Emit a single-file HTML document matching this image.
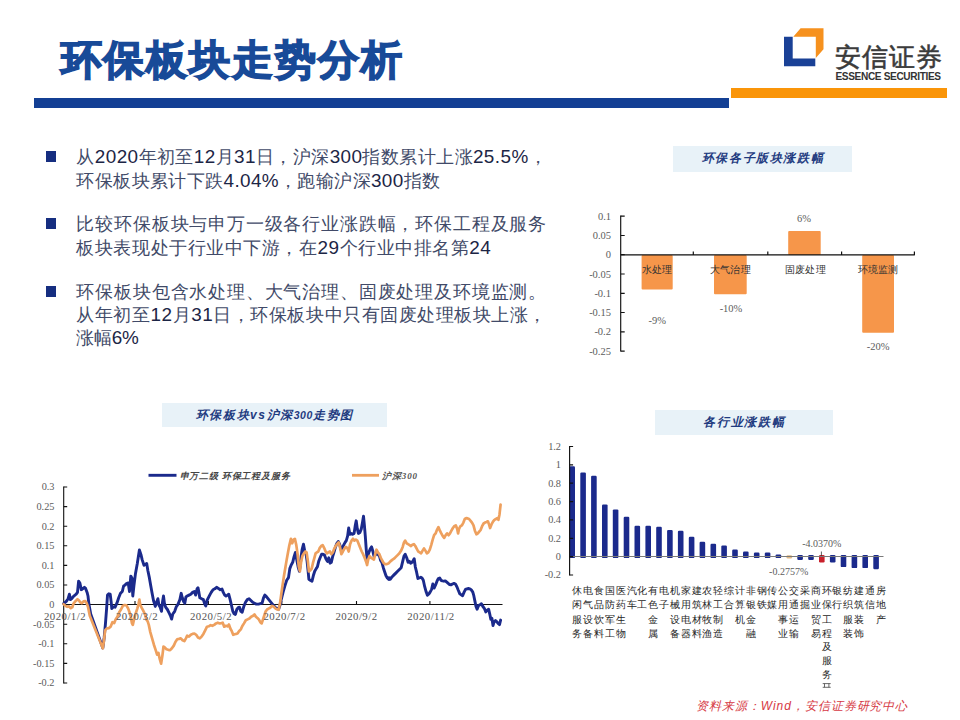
<!DOCTYPE html><html lang="zh"><head><meta charset="utf-8"><title>环保板块走势分析</title><style>
*{margin:0;padding:0;box-sizing:border-box}
html,body{width:960px;height:720px;background:#fff;overflow:hidden}
body{position:relative;font-family:"Liberation Sans", sans-serif;color:#222}
.abs{position:absolute;white-space:nowrap}
.title{left:60.5px;top:29.8px;font-size:40.8px;font-weight:700;color:#184a98;line-height:60px;letter-spacing:1.9px;-webkit-text-stroke:1.5px #184a98}
.bluebar{left:34.2px;top:98.2px;width:694.7px;height:9.5px;background:#133f94}
.orbar{left:731px;top:88.1px;width:216px;height:9.6px;background:#fa9509}
.logo-cn{left:835px;top:39px;font-size:26px;line-height:36px;color:#3b3b3b;letter-spacing:0.9px;font-weight:400;-webkit-text-stroke:0.55px #3b3b3b}
.logo-en{left:835.5px;top:69.5px;font-size:10.1px;line-height:14px;font-weight:700;color:#333;letter-spacing:-0.36px}
.bul{left:45.5px;width:10.8px;height:10.5px;background:#162e80}
.ln{left:76.4px;font-size:17.6px;line-height:24px;color:#414a68;height:24px}
.ln b{font-weight:400;font-size:18.9px;color:#1c2545}
.tbox{background:#e8f2f8;color:#1f3b80;font-weight:700;font-style:italic;text-align:center;font-size:12px}
.tbox i{font-size:10.5px;letter-spacing:0.6px}
.foot{left:696px;top:696.5px;font-size:12px;line-height:18px;color:#d63a45;font-style:italic;letter-spacing:0.95px}
svg{position:absolute;left:0;top:0}
svg text{font-family:"Liberation Serif", serif;fill:#5c5c5c}
</style></head><body>
<div class="abs title">环保板块走势分析</div>
<div class="abs bluebar"></div><div class="abs orbar"></div>
<svg width="960" height="720" viewBox="0 0 960 720">
<polygon points="784,36.7 792.7,36.7 792.7,58.5 815.3,58.5 815.3,66.3 784,66.3" fill="#1a4196"/>
<polygon points="793.3,36.7 800.6,28.3 823.5,28.3 823.5,49.2 815.8,57.9 815.8,36.7" fill="#f6911e"/>
</svg>
<div class="abs logo-cn">安信证券</div>
<div class="abs logo-en">ESSENCE SECURITIES</div>
<div class="abs bul" style="top:151.2px"></div>
<div class="abs bul" style="top:218.2px"></div>
<div class="abs bul" style="top:286.3px"></div>
<div class="abs ln" style="top:145px;letter-spacing:0.42px">从<b>2020</b>年初至<b>12</b>月<b>31</b>日，沪深<b>300</b>指数累计上涨<b>25.5%</b>，</div>
<div class="abs ln" style="top:169px;letter-spacing:0.387px">环保板块累计下跌<b>4.04%</b>，跑输沪深<b>300</b>指数</div>
<div class="abs ln" style="top:212px;letter-spacing:0.824px">比较环保板块与申万一级各行业涨跌幅，环保工程及服务</div>
<div class="abs ln" style="top:236px;letter-spacing:0.54px">板块表现处于行业中下游，在<b>29</b>个行业中排名第<b>24</b></div>
<div class="abs ln" style="top:279.5px;letter-spacing:0.824px">环保板块包含水处理、大气治理、固废处理及环境监测。</div>
<div class="abs ln" style="top:303px;letter-spacing:0.54px">从年初至<b>12</b>月<b>31</b>日，环保板块中只有固废处理板块上涨，</div>
<div class="abs ln" style="top:326px;letter-spacing:-0.328px">涨幅<b>6%</b></div>
<div class="abs tbox" style="left:672.5px;top:146px;width:179px;height:25.5px;line-height:25.5px;letter-spacing:1.6px;padding-left:2px">环保各子版块涨跌幅</div>
<div class="abs tbox" style="left:162px;top:403px;width:224.5px;height:24px;line-height:24px;letter-spacing:1.55px;padding-left:1px">环保板块vs沪深<i>300</i>走势图</div>
<div class="abs tbox" style="left:655px;top:409.5px;width:177.5px;height:25px;line-height:25px;letter-spacing:1.7px;padding-left:1px">各行业涨跌幅</div>
<svg width="960" height="720" viewBox="0 0 960 720">
<rect x="641.6" y="254.9" width="31.1" height="34.7" fill="#f6964a" rx="1"/>
<rect x="714" y="254.9" width="32.7" height="39.3" fill="#f6964a" rx="1"/>
<rect x="788.2" y="231.0" width="32.5" height="23.9" fill="#f6964a" rx="1"/>
<rect x="862.2" y="254.9" width="31.8" height="77.9" fill="#f6964a" rx="1"/>
<path d="M620.7,215.5 V351.5 M620.7,254.9 H914.8" stroke="#111" stroke-width="1.15" fill="none"/>
<path d="M620.7,216.2 h4 M620.7,235.5 h4 M620.7,254.7 h4 M620.7,274.0 h4 M620.7,293.3 h4 M620.7,312.5 h4 M620.7,331.8 h4 M620.7,351.1 h4 M693.3,254.9 v-3.5 M767.8,254.9 v-3.5 M841.6,254.9 v-3.5 M914.4,254.9 v-3.5" stroke="#111" stroke-width="1.2" fill="none"/>
<text x="611" y="219.7" font-size="10.5" text-anchor="end">0.1</text>
<text x="611" y="239.0" font-size="10.5" text-anchor="end">0.05</text>
<text x="611" y="258.2" font-size="10.5" text-anchor="end">0</text>
<text x="611" y="277.5" font-size="10.5" text-anchor="end">-0.05</text>
<text x="611" y="296.8" font-size="10.5" text-anchor="end">-0.1</text>
<text x="611" y="316.0" font-size="10.5" text-anchor="end">-0.15</text>
<text x="611" y="335.3" font-size="10.5" text-anchor="end">-0.2</text>
<text x="611" y="354.6" font-size="10.5" text-anchor="end">-0.25</text>
<text x="657" y="272.8" font-size="10.4" text-anchor="middle" style="fill:#333;letter-spacing:0.1px">水处理</text>
<text x="730.5" y="272.8" font-size="10.4" text-anchor="middle" style="fill:#333;letter-spacing:0.1px">大气治理</text>
<text x="805.5" y="272.8" font-size="10.4" text-anchor="middle" style="fill:#333;letter-spacing:0.1px">固废处理</text>
<text x="878" y="272.8" font-size="10.4" text-anchor="middle" style="fill:#333;letter-spacing:0.1px">环境监测</text>
<text x="657.3" y="323.5" font-size="10.5" text-anchor="middle">-9%</text>
<text x="731" y="311.7" font-size="10.5" text-anchor="middle">-10%</text>
<text x="804" y="222.4" font-size="10.5" text-anchor="middle">6%</text>
<text x="878.2" y="349.7" font-size="10.5" text-anchor="middle">-20%</text>
<path d="M63.7,486.5 V683.5 M63.7,604.5 H502.5" stroke="#111" stroke-width="1.1" fill="none"/>
<path d="M63.7,487.0 h3.5 M63.7,506.6 h3.5 M63.7,526.2 h3.5 M63.7,545.8 h3.5 M63.7,565.4 h3.5 M63.7,585.0 h3.5 M63.7,604.6 h3.5 M63.7,624.2 h3.5 M63.7,643.8 h3.5 M63.7,663.4 h3.5 M63.7,683.0 h3.5 M135.0,604.5 v-3.5 M208.4,604.5 v-3.5 M281.8,604.5 v-3.5 M356.5,604.5 v-3.5 M429.9,604.5 v-3.5" stroke="#111" stroke-width="1.1" fill="none"/>
<text x="54.5" y="490.4" font-size="10.3" text-anchor="end">0.3</text>
<text x="54.5" y="510.0" font-size="10.3" text-anchor="end">0.25</text>
<text x="54.5" y="529.6" font-size="10.3" text-anchor="end">0.2</text>
<text x="54.5" y="549.2" font-size="10.3" text-anchor="end">0.15</text>
<text x="54.5" y="568.8" font-size="10.3" text-anchor="end">0.1</text>
<text x="54.5" y="588.4" font-size="10.3" text-anchor="end">0.05</text>
<text x="54.5" y="608.0" font-size="10.3" text-anchor="end">0</text>
<text x="54.5" y="627.6" font-size="10.3" text-anchor="end">-0.05</text>
<text x="54.5" y="647.2" font-size="10.3" text-anchor="end">-0.1</text>
<text x="54.5" y="666.8" font-size="10.3" text-anchor="end">-0.15</text>
<text x="54.5" y="686.4" font-size="10.3" text-anchor="end">-0.2</text>
<path d="M63.6,603.6 L66.3,601.4 L68.1,598.7 L69.4,594.2 L70.5,599.6 L71.7,598.7 L73.5,596.3 L76.2,594.2 L77.5,592.4 L78.6,581.2 L79.9,583.0 L81.3,589.7 L82.6,588.8 L84.4,587.3 L85.6,588.4 L87.1,592.4 L88.0,596.0 L88.9,604.1 L90.7,614.0 L102.8,648.0 L104.2,637.5 L105.5,623.1 L106.6,608.6 L107.5,595.1 L108.8,593.8 L110.2,594.2 L111.1,601.4 L111.8,608.6 L113.3,606.8 L115.1,607.2 L116.9,603.2 L118.7,597.8 L120.5,593.3 L122.3,591.5 L123.6,586.0 L125.0,585.1 L126.8,583.3 L128.2,583.0 L129.5,591.5 L130.8,576.1 L131.9,577.9 L132.8,596.0 L134.0,585.1 L135.5,573.4 L137.3,563.5 L139.4,549.9 L140.9,554.4 L142.2,559.9 L144.0,565.3 L145.4,564.4 L146.7,563.5 L147.9,570.7 L149.4,577.9 L150.8,586.0 L152.1,593.3 L153.5,600.5 L155.3,606.4 L156.6,602.3 L157.9,598.7 L158.9,605.0 L160.2,607.2 L161.5,611.3 L162.6,601.4 L163.5,596.0 L164.4,603.2 L165.6,607.2 L167.4,609.5 L169.2,613.1 L170.5,615.8 L171.6,619.1 L172.8,614.0 L174.7,611.3 L176.3,606.8 L178.1,604.1 L179.9,599.6 L181.2,593.3 L182.3,597.8 L183.5,601.4 L184.8,603.2 L185.9,596.9 L187.2,596.0 L189.0,595.1 L190.8,594.2 L192.6,592.4 L194.4,591.5 L195.6,595.1 L197.1,588.8 L198.0,587.8 L198.9,592.4 L199.8,597.8 L201.6,598.7 L203.4,599.6 L204.7,604.1 L205.8,605.9 L207.0,600.5 L208.3,597.8 L209.7,595.1 L211.2,592.4 L213.0,589.7 L214.8,588.8 L216.6,587.3 L218.4,588.4 L220.2,589.7 L222.0,589.1 L223.3,592.4 L224.7,595.1 L226.0,596.0 L227.4,595.1 L228.7,594.2 L229.9,598.7 L231.4,605.0 L232.8,611.3 L234.1,613.7 L235.4,614.4 L236.8,609.5 L238.2,607.7 L239.5,607.2 L240.8,611.3 L242.2,612.2 L243.7,606.8 L245.5,602.3 L247.3,599.6 L249.1,598.7 L250.9,600.5 L252.7,602.3 L254.5,603.2 L256.3,604.1 L258.5,604.1 L260.3,603.6 L262.1,603.2 L263.5,597.8 L264.8,595.1 L266.6,596.9 L268.4,599.2 L270.2,601.4 L272.0,603.6 L273.8,605.9 L275.6,607.7 L277.4,608.6 L278.6,609.2 L280.1,604.7 L281.3,599.3 L283.1,592.1 L284.9,585.8 L286.7,580.3 L288.5,577.6 L289.8,568.6 L291.2,565.0 L292.7,562.3 L294.0,556.9 L295.4,552.4 L296.7,559.6 L298.1,566.8 L299.4,571.3 L300.3,565.0 L301.2,556.0 L302.1,549.7 L303.5,544.2 L304.8,551.5 L306.1,554.2 L307.1,561.4 L308.2,572.2 L308.9,579.4 L310.2,580.3 L312.0,581.2 L313.3,575.8 L314.7,571.3 L316.2,568.6 L317.4,566.8 L318.7,561.4 L320.1,557.8 L321.6,554.2 L323.0,554.2 L324.5,555.1 L325.9,558.7 L327.4,561.4 L328.8,557.8 L330.1,563.2 L331.3,562.3 L332.8,556.0 L334.2,551.5 L335.5,546.9 L336.9,543.3 L338.2,541.5 L339.6,544.2 L340.9,549.7 L342.2,547.8 L343.6,545.1 L345.1,542.4 L346.3,540.6 L347.6,536.1 L348.7,528.0 L349.9,534.3 L351.2,533.4 L352.6,534.3 L354.1,533.4 L355.3,525.3 L356.2,520.8 L357.3,528.9 L358.4,533.4 L359.9,532.5 L361.3,528.9 L362.6,521.7 L363.5,516.2 L364.4,525.3 L365.3,536.1 L366.2,548.8 L367.1,559.6 L368.0,556.0 L368.9,552.4 L370.3,548.8 L371.6,546.9 L372.9,551.5 L373.9,556.0 L375.2,555.1 L376.5,553.3 L377.9,554.2 L379.4,556.0 L380.6,560.5 L381.9,562.3 L383.3,567.7 L384.8,572.2 L386.0,575.8 L387.3,578.0 L388.8,579.4 L389.0,577.6 L390.4,579.1 L392.2,576.7 L394.0,574.9 L395.8,573.1 L397.6,571.3 L399.4,569.5 L401.2,567.7 L402.7,561.4 L404.0,556.0 L405.2,554.2 L406.7,557.8 L408.1,562.3 L409.4,561.4 L410.6,563.2 L412.1,562.3 L413.2,560.5 L414.2,558.7 L415.3,566.8 L416.6,572.2 L417.9,578.5 L419.3,578.0 L420.8,577.3 L422.0,578.0 L423.3,580.3 L424.7,586.7 L426.2,592.1 L427.4,595.3 L428.9,593.9 L430.1,592.1 L431.6,589.4 L432.8,584.0 L434.1,588.1 L435.6,584.9 L437.0,581.2 L438.4,578.5 L439.7,578.0 L441.0,580.3 L442.4,580.9 L443.9,581.2 L445.3,580.9 L446.8,582.2 L448.2,583.4 L449.6,584.5 L451.1,584.9 L452.5,584.0 L454.0,583.4 L455.4,584.0 L456.9,586.7 L458.3,590.3 L459.8,593.9 L461.2,594.8 L462.6,595.7 L464.1,592.1 L465.5,589.4 L467.0,588.8 L468.4,588.5 L469.9,588.8 L471.3,589.9 L472.8,592.1 L473.8,595.7 L474.9,601.1 L476.0,606.5 L477.1,609.2 L478.5,605.6 L480.0,604.7 L481.4,603.8 L482.9,606.5 L484.3,608.3 L485.8,611.9 L487.2,610.1 L488.6,609.2 L489.7,613.8 L490.8,619.2 L491.9,618.3 L493.0,625.5 L494.1,621.9 L495.5,620.6 L496.9,621.9 L498.4,623.7 L499.5,624.6 L500.6,620.1" stroke="#1b2a8c" stroke-width="2.9" fill="none" stroke-linejoin="round" stroke-linecap="round"/>
<path d="M63.6,604.1 L65.4,605.9 L67.2,606.8 L69.0,606.4 L70.8,608.2 L72.3,607.2 L73.5,603.6 L75.3,601.4 L77.5,599.2 L79.0,600.5 L80.2,602.3 L81.7,603.2 L83.5,601.4 L85.3,601.0 L86.7,603.2 L88.0,606.8 L89.8,615.8 L102.8,648.3 L103.9,641.1 L105.1,630.3 L106.6,628.5 L108.8,628.1 L110.6,626.7 L112.4,622.2 L114.2,623.1 L115.6,619.4 L117.4,616.7 L119.2,612.2 L121.0,609.5 L122.8,605.9 L124.6,605.0 L126.4,605.4 L128.2,608.6 L129.5,612.2 L130.8,616.7 L131.9,623.1 L132.8,624.9 L134.0,619.4 L135.5,614.0 L137.3,608.6 L138.5,604.1 L139.4,599.6 L140.3,605.0 L141.6,607.7 L143.1,610.4 L144.9,614.0 L146.3,619.4 L147.6,621.2 L148.8,624.9 L150.3,632.1 L152.1,638.4 L153.9,644.7 L155.7,650.1 L157.1,654.7 L158.4,652.8 L159.8,659.2 L161.1,663.7 L162.4,655.6 L163.5,646.5 L164.7,647.4 L166.5,649.2 L168.3,649.8 L170.1,650.1 L171.9,648.3 L173.8,645.6 L175.4,642.0 L177.2,639.3 L179.0,638.9 L180.8,638.4 L182.6,640.2 L184.4,641.1 L185.9,638.4 L187.2,635.7 L189.0,636.6 L190.8,634.8 L192.6,633.9 L194.4,633.5 L196.2,634.8 L198.0,637.5 L199.8,638.4 L201.6,636.6 L203.4,633.9 L205.2,630.3 L207.0,626.7 L208.8,626.3 L210.6,625.2 L212.4,625.8 L214.2,624.9 L216.0,623.4 L217.8,622.7 L219.7,623.4 L221.5,623.1 L222.7,622.7 L224.2,626.7 L226.0,625.8 L227.4,626.3 L228.9,624.5 L230.3,628.5 L231.8,631.2 L233.2,634.8 L234.6,634.2 L236.1,633.9 L237.5,633.5 L239.0,631.2 L240.8,629.4 L242.2,626.3 L244.0,623.4 L245.8,620.3 L247.6,619.4 L249.4,618.5 L251.2,616.7 L253.1,615.8 L254.5,614.4 L255.9,616.7 L257.4,618.0 L258.8,619.4 L260.3,622.2 L261.7,623.4 L263.0,619.4 L264.2,615.8 L265.7,611.3 L267.1,609.5 L268.6,608.6 L270.2,607.7 L272.0,605.9 L273.8,606.8 L275.6,608.6 L277.4,609.5 L278.6,609.8 L280.1,602.9 L281.3,593.9 L282.6,584.9 L284.0,575.8 L285.5,566.8 L286.7,559.6 L288.0,552.4 L289.4,545.1 L290.9,538.8 L292.2,543.3 L293.6,539.7 L294.9,538.8 L296.3,545.1 L297.6,554.2 L298.8,566.8 L299.9,571.3 L301.2,561.4 L302.4,556.0 L303.9,553.3 L305.3,551.5 L306.6,552.4 L307.9,561.4 L308.9,571.3 L310.2,570.4 L311.7,568.6 L312.9,563.2 L314.4,557.8 L315.6,553.3 L316.9,552.4 L318.3,551.5 L319.8,547.8 L321.2,546.0 L322.7,545.1 L324.1,547.8 L325.6,551.5 L327.0,553.3 L328.4,552.4 L329.9,551.5 L331.3,554.2 L332.8,552.4 L334.2,548.8 L335.7,546.0 L337.1,544.2 L338.6,542.4 L340.0,546.9 L341.4,554.2 L342.9,551.5 L344.3,548.8 L345.8,546.9 L347.2,547.8 L348.7,551.5 L350.1,544.2 L351.6,540.6 L353.0,538.8 L354.4,540.6 L355.9,539.7 L357.3,540.6 L358.8,544.2 L360.2,547.8 L361.7,551.5 L363.1,554.2 L364.6,557.8 L366.0,561.4 L367.1,565.0 L368.2,559.6 L369.6,556.0 L371.1,557.8 L372.5,558.7 L373.9,559.6 L375.2,554.2 L376.5,549.7 L377.9,552.4 L379.4,554.2 L380.8,557.8 L382.2,560.5 L383.7,563.2 L385.1,564.1 L386.9,564.1 L388.8,563.2 L390.4,561.4 L392.2,559.9 L394.0,558.7 L395.8,556.9 L397.6,555.1 L399.4,553.3 L401.2,550.6 L402.7,546.9 L404.0,542.4 L405.2,540.6 L406.7,543.3 L408.1,544.2 L409.6,545.1 L411.0,546.0 L412.4,544.8 L413.9,544.2 L415.3,546.0 L416.8,548.8 L418.2,551.5 L419.7,552.4 L421.1,553.3 L422.6,550.6 L424.0,548.4 L425.4,550.6 L426.9,553.3 L428.3,552.4 L429.8,549.7 L431.2,545.1 L432.7,539.7 L434.1,535.2 L435.6,533.4 L437.0,529.8 L438.4,527.1 L439.9,530.7 L441.3,533.4 L442.8,536.1 L444.2,537.9 L445.7,535.2 L447.1,533.4 L448.6,535.2 L450.0,533.4 L451.4,530.7 L452.9,528.0 L454.3,526.2 L455.8,525.3 L457.2,528.9 L458.1,533.4 L459.0,528.9 L460.5,526.2 L461.9,525.3 L463.4,522.6 L464.8,519.0 L466.2,518.1 L467.7,518.4 L469.1,519.0 L470.6,520.8 L472.0,522.6 L473.5,525.3 L474.9,530.7 L476.4,534.3 L477.8,533.4 L479.2,531.6 L480.7,529.8 L482.1,526.2 L483.6,523.5 L485.0,522.6 L486.5,522.0 L487.9,521.3 L489.0,524.4 L490.1,528.0 L491.5,524.4 L493.0,521.7 L494.4,519.9 L495.9,519.0 L497.3,518.1 L498.4,519.9 L499.5,514.4 L500.6,504.5" stroke="#eea05e" stroke-width="2.7" fill="none" stroke-linejoin="round" stroke-linecap="round"/>
<text x="65" y="619.8" font-size="10.8" text-anchor="middle" style="letter-spacing:0.45px;fill:#555">2020/1/2</text>
<text x="137" y="619.8" font-size="10.8" text-anchor="middle" style="letter-spacing:0.45px;fill:#555">2020/3/2</text>
<text x="211" y="619.8" font-size="10.8" text-anchor="middle" style="letter-spacing:0.45px;fill:#555">2020/5/2</text>
<text x="284.5" y="619.8" font-size="10.8" text-anchor="middle" style="letter-spacing:0.45px;fill:#555">2020/7/2</text>
<text x="356.5" y="619.8" font-size="10.8" text-anchor="middle" style="letter-spacing:0.45px;fill:#555">2020/9/2</text>
<text x="431" y="619.8" font-size="10.8" text-anchor="middle" style="letter-spacing:0.45px;fill:#555">2020/11/2</text>
<path d="M148.5,475.3 H176.5" stroke="#1b2a8c" stroke-width="2.9" stroke-linecap="butt"/>
<path d="M352,475.3 H379" stroke="#eea05e" stroke-width="2.8" stroke-linecap="butt"/>
<text x="179.5" y="478.6" font-size="9" style="font-style:italic;font-weight:700;fill:#444;letter-spacing:0.82px">申万二级 环保工程及服务</text>
<text x="382" y="478.6" font-size="9" style="font-style:italic;font-weight:700;fill:#555;letter-spacing:0.9px">沪深300</text>
<rect x="569.4" y="466.3" width="5.6" height="91.8" fill="#1b2a8c" rx="1.2"/>
<rect x="580.3" y="472.5" width="5.6" height="85.6" fill="#1b2a8c" rx="1.2"/>
<rect x="591.1" y="475.7" width="5.6" height="82.4" fill="#1b2a8c" rx="1.2"/>
<rect x="602.0" y="504.4" width="5.6" height="53.7" fill="#1b2a8c" rx="1.2"/>
<rect x="612.8" y="509.4" width="5.6" height="48.7" fill="#1b2a8c" rx="1.2"/>
<rect x="623.7" y="516.7" width="5.6" height="41.4" fill="#1b2a8c" rx="1.2"/>
<rect x="634.5" y="525.7" width="5.6" height="32.4" fill="#1b2a8c" rx="1.2"/>
<rect x="645.4" y="525.7" width="5.6" height="32.4" fill="#1b2a8c" rx="1.2"/>
<rect x="656.2" y="526.7" width="5.6" height="31.4" fill="#1b2a8c" rx="1.2"/>
<rect x="667.1" y="529.9" width="5.6" height="28.2" fill="#1b2a8c" rx="1.2"/>
<rect x="677.9" y="530.8" width="5.6" height="27.3" fill="#1b2a8c" rx="1.2"/>
<rect x="688.8" y="536.7" width="5.6" height="21.4" fill="#1b2a8c" rx="1.2"/>
<rect x="699.6" y="541.8" width="5.6" height="16.3" fill="#1b2a8c" rx="1.2"/>
<rect x="710.5" y="543.7" width="5.6" height="14.4" fill="#1b2a8c" rx="1.2"/>
<rect x="721.3" y="545.5" width="5.6" height="12.6" fill="#1b2a8c" rx="1.2"/>
<rect x="732.2" y="549.6" width="5.6" height="8.5" fill="#1b2a8c" rx="1.2"/>
<rect x="743.0" y="551.6" width="5.6" height="6.5" fill="#1b2a8c" rx="1.2"/>
<rect x="753.9" y="552.6" width="5.6" height="5.5" fill="#1b2a8c" rx="1.2"/>
<rect x="764.8" y="552.6" width="5.6" height="5.5" fill="#1b2a8c" rx="1.2"/>
<rect x="775.6" y="554.4" width="5.6" height="3.7" fill="#1b2a8c" rx="1.2"/>
<rect x="786.5" y="555.3" width="5.6" height="3.2" fill="#e2ba86" rx="1.2"/>
<rect x="797.3" y="554.9" width="5.6" height="5.0" fill="#1b2a8c" rx="1.2"/>
<rect x="808.2" y="554.9" width="5.6" height="5.0" fill="#1b2a8c" rx="1.2"/>
<rect x="819.0" y="554.9" width="5.6" height="7.6" fill="#c9202b" rx="1.2"/>
<rect x="829.9" y="554.9" width="5.6" height="7.6" fill="#1b2a8c" rx="1.2"/>
<rect x="840.7" y="554.9" width="5.6" height="12.2" fill="#1b2a8c" rx="1.2"/>
<rect x="851.6" y="554.9" width="5.6" height="13.2" fill="#1b2a8c" rx="1.2"/>
<rect x="862.4" y="554.9" width="5.6" height="13.2" fill="#1b2a8c" rx="1.2"/>
<rect x="873.3" y="554.9" width="5.6" height="14.3" fill="#1b2a8c" rx="1.2"/>
<path d="M569.6,556.5 H883.5" stroke="#7a7a7a" stroke-width="1" fill="none"/>
<path d="M569.6,446 V575.5" stroke="#111" stroke-width="1.15" fill="none"/>
<path d="M569.6,446.5 h3.5 M569.6,464.9 h3.5 M569.6,483.2 h3.5 M569.6,501.6 h3.5 M569.6,519.9 h3.5 M569.6,538.3 h3.5 M569.6,556.7 h3.5 M569.6,575.0 h3.5" stroke="#111" stroke-width="1.2" fill="none"/>
<path d="M821.4,551.5 V556" stroke="#333" stroke-width="0.8"/>
<text x="561" y="449.9" font-size="10.3" text-anchor="end">1.2</text>
<text x="561" y="468.3" font-size="10.3" text-anchor="end">1</text>
<text x="561" y="486.6" font-size="10.3" text-anchor="end">0.8</text>
<text x="561" y="505.0" font-size="10.3" text-anchor="end">0.6</text>
<text x="561" y="523.3" font-size="10.3" text-anchor="end">0.4</text>
<text x="561" y="541.7" font-size="10.3" text-anchor="end">0.2</text>
<text x="561" y="560.1" font-size="10.3" text-anchor="end">0</text>
<text x="561" y="578.4" font-size="10.3" text-anchor="end">-0.2</text>
<text x="821.8" y="546.8" font-size="10" text-anchor="middle">-4.0370%</text>
<text x="788.7" y="575" font-size="10" text-anchor="middle">-0.2757%</text>
<text x="577.3" y="594.0" font-size="10.4" text-anchor="middle" style="fill:#262626">休</text>
<text x="577.3" y="608.2" font-size="10.4" text-anchor="middle" style="fill:#262626">闲</text>
<text x="577.3" y="622.6" font-size="10.4" text-anchor="middle" style="fill:#262626">服</text>
<text x="577.3" y="636.7" font-size="10.4" text-anchor="middle" style="fill:#262626">务</text>
<text x="588.1" y="594.0" font-size="10.4" text-anchor="middle" style="fill:#262626">电</text>
<text x="588.1" y="608.2" font-size="10.4" text-anchor="middle" style="fill:#262626">气</text>
<text x="588.1" y="622.6" font-size="10.4" text-anchor="middle" style="fill:#262626">设</text>
<text x="588.1" y="636.7" font-size="10.4" text-anchor="middle" style="fill:#262626">备</text>
<text x="599.0" y="594.0" font-size="10.4" text-anchor="middle" style="fill:#262626">食</text>
<text x="599.0" y="608.2" font-size="10.4" text-anchor="middle" style="fill:#262626">品</text>
<text x="599.0" y="622.6" font-size="10.4" text-anchor="middle" style="fill:#262626">饮</text>
<text x="599.0" y="636.7" font-size="10.4" text-anchor="middle" style="fill:#262626">料</text>
<text x="609.8" y="594.0" font-size="10.4" text-anchor="middle" style="fill:#262626">国</text>
<text x="609.8" y="608.2" font-size="10.4" text-anchor="middle" style="fill:#262626">防</text>
<text x="609.8" y="622.6" font-size="10.4" text-anchor="middle" style="fill:#262626">军</text>
<text x="609.8" y="636.7" font-size="10.4" text-anchor="middle" style="fill:#262626">工</text>
<text x="620.6" y="594.0" font-size="10.4" text-anchor="middle" style="fill:#262626">医</text>
<text x="620.6" y="608.2" font-size="10.4" text-anchor="middle" style="fill:#262626">药</text>
<text x="620.6" y="622.6" font-size="10.4" text-anchor="middle" style="fill:#262626">生</text>
<text x="620.6" y="636.7" font-size="10.4" text-anchor="middle" style="fill:#262626">物</text>
<text x="631.5" y="594.0" font-size="10.4" text-anchor="middle" style="fill:#262626">汽</text>
<text x="631.5" y="608.2" font-size="10.4" text-anchor="middle" style="fill:#262626">车</text>
<text x="642.3" y="594.0" font-size="10.4" text-anchor="middle" style="fill:#262626">化</text>
<text x="642.3" y="608.2" font-size="10.4" text-anchor="middle" style="fill:#262626">工</text>
<text x="653.2" y="594.0" font-size="10.4" text-anchor="middle" style="fill:#262626">有</text>
<text x="653.2" y="608.2" font-size="10.4" text-anchor="middle" style="fill:#262626">色</text>
<text x="653.2" y="622.6" font-size="10.4" text-anchor="middle" style="fill:#262626">金</text>
<text x="653.2" y="636.7" font-size="10.4" text-anchor="middle" style="fill:#262626">属</text>
<text x="664.0" y="594.0" font-size="10.4" text-anchor="middle" style="fill:#262626">电</text>
<text x="664.0" y="608.2" font-size="10.4" text-anchor="middle" style="fill:#262626">子</text>
<text x="674.8" y="594.0" font-size="10.4" text-anchor="middle" style="fill:#262626">机</text>
<text x="674.8" y="608.2" font-size="10.4" text-anchor="middle" style="fill:#262626">械</text>
<text x="674.8" y="622.6" font-size="10.4" text-anchor="middle" style="fill:#262626">设</text>
<text x="674.8" y="636.7" font-size="10.4" text-anchor="middle" style="fill:#262626">备</text>
<text x="685.7" y="594.0" font-size="10.4" text-anchor="middle" style="fill:#262626">家</text>
<text x="685.7" y="608.2" font-size="10.4" text-anchor="middle" style="fill:#262626">用</text>
<text x="685.7" y="622.6" font-size="10.4" text-anchor="middle" style="fill:#262626">电</text>
<text x="685.7" y="636.7" font-size="10.4" text-anchor="middle" style="fill:#262626">器</text>
<text x="696.5" y="594.0" font-size="10.4" text-anchor="middle" style="fill:#262626">建</text>
<text x="696.5" y="608.2" font-size="10.4" text-anchor="middle" style="fill:#262626">筑</text>
<text x="696.5" y="622.6" font-size="10.4" text-anchor="middle" style="fill:#262626">材</text>
<text x="696.5" y="636.7" font-size="10.4" text-anchor="middle" style="fill:#262626">料</text>
<text x="707.3" y="594.0" font-size="10.4" text-anchor="middle" style="fill:#262626">农</text>
<text x="707.3" y="608.2" font-size="10.4" text-anchor="middle" style="fill:#262626">林</text>
<text x="707.3" y="622.6" font-size="10.4" text-anchor="middle" style="fill:#262626">牧</text>
<text x="707.3" y="636.7" font-size="10.4" text-anchor="middle" style="fill:#262626">渔</text>
<text x="718.2" y="594.0" font-size="10.4" text-anchor="middle" style="fill:#262626">轻</text>
<text x="718.2" y="608.2" font-size="10.4" text-anchor="middle" style="fill:#262626">工</text>
<text x="718.2" y="622.6" font-size="10.4" text-anchor="middle" style="fill:#262626">制</text>
<text x="718.2" y="636.7" font-size="10.4" text-anchor="middle" style="fill:#262626">造</text>
<text x="729.0" y="594.0" font-size="10.4" text-anchor="middle" style="fill:#262626">综</text>
<text x="729.0" y="608.2" font-size="10.4" text-anchor="middle" style="fill:#262626">合</text>
<text x="739.9" y="594.0" font-size="10.4" text-anchor="middle" style="fill:#262626">计</text>
<text x="739.9" y="608.2" font-size="10.4" text-anchor="middle" style="fill:#262626">算</text>
<text x="739.9" y="622.6" font-size="10.4" text-anchor="middle" style="fill:#262626">机</text>
<text x="750.7" y="594.0" font-size="10.4" text-anchor="middle" style="fill:#262626">非</text>
<text x="750.7" y="608.2" font-size="10.4" text-anchor="middle" style="fill:#262626">银</text>
<text x="750.7" y="622.6" font-size="10.4" text-anchor="middle" style="fill:#262626">金</text>
<text x="750.7" y="636.7" font-size="10.4" text-anchor="middle" style="fill:#262626">融</text>
<text x="761.5" y="594.0" font-size="10.4" text-anchor="middle" style="fill:#262626">钢</text>
<text x="761.5" y="608.2" font-size="10.4" text-anchor="middle" style="fill:#262626">铁</text>
<text x="772.4" y="594.0" font-size="10.4" text-anchor="middle" style="fill:#262626">传</text>
<text x="772.4" y="608.2" font-size="10.4" text-anchor="middle" style="fill:#262626">媒</text>
<text x="783.2" y="594.0" font-size="10.4" text-anchor="middle" style="fill:#262626">公</text>
<text x="783.2" y="608.2" font-size="10.4" text-anchor="middle" style="fill:#262626">用</text>
<text x="783.2" y="622.6" font-size="10.4" text-anchor="middle" style="fill:#262626">事</text>
<text x="783.2" y="636.7" font-size="10.4" text-anchor="middle" style="fill:#262626">业</text>
<text x="794.0" y="594.0" font-size="10.4" text-anchor="middle" style="fill:#262626">交</text>
<text x="794.0" y="608.2" font-size="10.4" text-anchor="middle" style="fill:#262626">通</text>
<text x="794.0" y="622.6" font-size="10.4" text-anchor="middle" style="fill:#262626">运</text>
<text x="794.0" y="636.7" font-size="10.4" text-anchor="middle" style="fill:#262626">输</text>
<text x="804.9" y="594.0" font-size="10.4" text-anchor="middle" style="fill:#262626">采</text>
<text x="804.9" y="608.2" font-size="10.4" text-anchor="middle" style="fill:#262626">掘</text>
<text x="815.7" y="594.0" font-size="10.4" text-anchor="middle" style="fill:#262626">商</text>
<text x="815.7" y="608.2" font-size="10.4" text-anchor="middle" style="fill:#262626">业</text>
<text x="815.7" y="622.6" font-size="10.4" text-anchor="middle" style="fill:#262626">贸</text>
<text x="815.7" y="636.7" font-size="10.4" text-anchor="middle" style="fill:#262626">易</text>
<text x="826.5" y="594.0" font-size="10.4" text-anchor="middle" style="fill:#262626">环</text>
<text x="826.5" y="608.2" font-size="10.4" text-anchor="middle" style="fill:#262626">保</text>
<text x="826.5" y="622.6" font-size="10.4" text-anchor="middle" style="fill:#262626">工</text>
<text x="826.5" y="636.7" font-size="10.4" text-anchor="middle" style="fill:#262626">程</text>
<text x="826.5" y="650.1" font-size="10.4" text-anchor="middle" style="fill:#262626">及</text>
<text x="826.5" y="664.0" font-size="10.4" text-anchor="middle" style="fill:#262626">服</text>
<text x="826.5" y="678.2" font-size="10.4" text-anchor="middle" style="fill:#262626">务</text>
<path d="M822.7,683.6 h8 M822.7,687.3 h8 M824.5,683.6 v3.7 M828.9,683.6 v3.7" stroke="#444" stroke-width="0.8" fill="none"/>
<text x="837.4" y="594.0" font-size="10.4" text-anchor="middle" style="fill:#262626">银</text>
<text x="837.4" y="608.2" font-size="10.4" text-anchor="middle" style="fill:#262626">行</text>
<text x="848.2" y="594.0" font-size="10.4" text-anchor="middle" style="fill:#262626">纺</text>
<text x="848.2" y="608.2" font-size="10.4" text-anchor="middle" style="fill:#262626">织</text>
<text x="848.2" y="622.6" font-size="10.4" text-anchor="middle" style="fill:#262626">服</text>
<text x="848.2" y="636.7" font-size="10.4" text-anchor="middle" style="fill:#262626">装</text>
<text x="859.1" y="594.0" font-size="10.4" text-anchor="middle" style="fill:#262626">建</text>
<text x="859.1" y="608.2" font-size="10.4" text-anchor="middle" style="fill:#262626">筑</text>
<text x="859.1" y="622.6" font-size="10.4" text-anchor="middle" style="fill:#262626">装</text>
<text x="859.1" y="636.7" font-size="10.4" text-anchor="middle" style="fill:#262626">饰</text>
<text x="869.9" y="594.0" font-size="10.4" text-anchor="middle" style="fill:#262626">通</text>
<text x="869.9" y="608.2" font-size="10.4" text-anchor="middle" style="fill:#262626">信</text>
<text x="880.7" y="594.0" font-size="10.4" text-anchor="middle" style="fill:#262626">房</text>
<text x="880.7" y="608.2" font-size="10.4" text-anchor="middle" style="fill:#262626">地</text>
<text x="880.7" y="622.6" font-size="10.4" text-anchor="middle" style="fill:#262626">产</text>
</svg>
<div class="abs foot">资料来源：Wind，安信证券研究中心</div>
</body></html>
